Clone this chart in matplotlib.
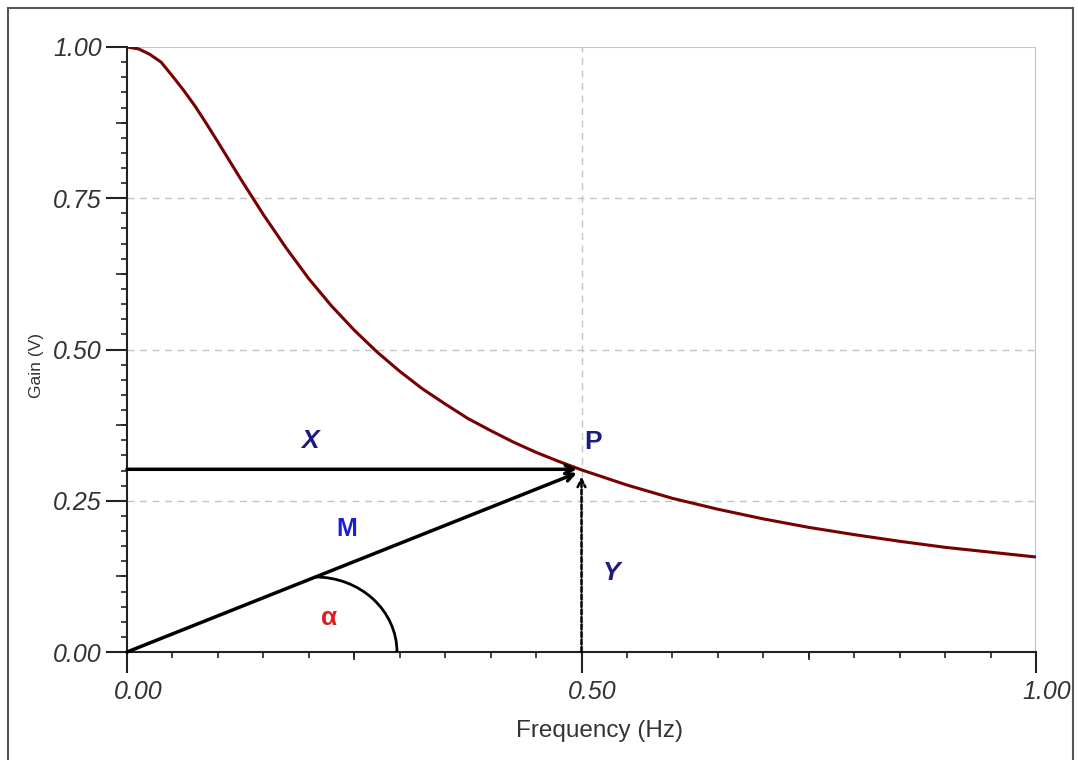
import numpy as np
import matplotlib
matplotlib.use("Agg")
import matplotlib.pyplot as plt
from matplotlib.patches import Arc, Rectangle
from matplotlib.transforms import ScaledTranslation

# gain curve
freq = [0.0, 0.0125, 0.025, 0.0375, 0.05, 0.0625, 0.075, 0.0875, 0.10, 0.125,
        0.15, 0.175, 0.20, 0.225, 0.25, 0.275, 0.30, 0.325, 0.35, 0.375, 0.40,
        0.425, 0.45, 0.475, 0.50, 0.55, 0.60, 0.65, 0.70, 0.75, 0.80, 0.85,
        0.90, 0.95, 1.00]
gain = [1.000, 0.997, 0.988, 0.975, 0.952, 0.928, 0.902, 0.873, 0.843, 0.782,
        0.723, 0.668, 0.617, 0.572, 0.532, 0.496, 0.464, 0.435, 0.410, 0.386, 0.366,
        0.347, 0.330, 0.315, 0.301, 0.276, 0.254, 0.236, 0.220, 0.206, 0.194, 0.183,
        0.173, 0.165, 0.157]

# point P and the angle marker
p_freq, p_gain = 0.495, 0.302
arc_center = 0.207
arc_rx, arc_ry = 0.090, 0.124

x_ticks = [0.0, 0.5, 1.0]
x_ticklabels = ["0.00", "0.50", "1.00"]
y_ticks = [0.0, 0.25, 0.5, 0.75, 1.0]
y_ticklabels = ["0.00", "0.25", "0.50", "0.75", "1.00"]

plt.rcParams["font.family"] = ["Liberation Sans", "DejaVu Sans"]

fig = plt.figure(figsize=(10.78, 7.6), dpi=100)
ax = fig.add_axes([127 / 1078, 1 - 652 / 760, (1036 - 127) / 1078, (652 - 47) / 760])

# outer frame
fig.patches.append(Rectangle((8 / 1078, -0.02), (1073 - 8) / 1078, 1 - 8 / 760 + 0.02,
                             transform=fig.transFigure, fill=False,
                             edgecolor="#555555", lw=1.5))

ax.plot(freq, gain, color="#780000", lw=2.2, zorder=3)

ax.set_xlim(0, 1)
ax.set_ylim(0, 1)

# grid
for yv in [0.25, 0.5, 0.75]:
    ax.axhline(yv, color="#c4c4c4", lw=1, ls=(0, (5, 4)), zorder=1)
ax.axvline(0.5, color="#c4c4c4", lw=1, ls=(0, (5, 4)), zorder=1)
ax.axhline(1.0, color="#c4c4c4", lw=1.5, zorder=1)

for s in ["top", "right"]:
    ax.spines[s].set_visible(False)
ax.axvline(1.0, color="#c4c4c4", lw=1.5, zorder=1)
ax.spines["left"].set_color("#222222")
ax.spines["bottom"].set_color("#222222")
ax.spines["left"].set_linewidth(1.5)
ax.spines["bottom"].set_linewidth(1.5)

ax.set_xticks(x_ticks)
ax.set_xticklabels(x_ticklabels)
ax.set_yticks(y_ticks)
ax.set_yticklabels(y_ticklabels)
ax.set_xticks(np.arange(0.05, 1.0, 0.05), minor=True)
ax.set_yticks(np.arange(0.025, 1.0, 0.025), minor=True)
ax.tick_params(axis="both", which="major", length=15, width=1.5, color="#222222",
               labelsize=18, labelcolor="#333333")
ax.tick_params(axis="y", which="major", pad=3)
ax.tick_params(axis="x", which="major", pad=5)
ax.tick_params(axis="both", which="minor", length=4, width=1.2, color="#222222")
for lab in ax.get_xticklabels() + ax.get_yticklabels():
    lab.set_fontstyle("italic")
offset = ScaledTranslation(11 / 100, 0, fig.dpi_scale_trans)
for lab in ax.get_xticklabels():
    lab.set_transform(lab.get_transform() + offset)

# medium ticks at the quarter points
sec_y = ax.secondary_yaxis("left")
sec_y.set_yticks([0.125, 0.375, 0.625, 0.875])
sec_y.tick_params(length=8, width=1.2, color="#222222", labelleft=False)
sec_y.spines["left"].set_visible(False)
sec_x = ax.secondary_xaxis("bottom")
sec_x.set_xticks([0.25, 0.75])
sec_x.tick_params(length=6, width=1.2, color="#222222", labelbottom=False)
sec_x.spines["bottom"].set_visible(False)

ax.set_xlabel("Frequency (Hz)", fontsize=17.5, color="#333333")
ax.xaxis.set_label_coords(0.520, -0.112)
ax.set_ylabel("Gain (V)", fontsize=12.5, color="#333333")
ax.yaxis.set_label_coords(-0.091, 0.473)

# vectors
arrow_kw = dict(arrowstyle="->", color="black", lw=2.5, mutation_scale=14,
                shrinkA=0, shrinkB=0)
ax.annotate("", xy=(p_freq, p_gain), xytext=(0, p_gain), arrowprops=arrow_kw, zorder=4)
ax.annotate("", xy=(p_freq, p_gain - 0.006), xytext=(0, 0), arrowprops=arrow_kw, zorder=4)
ax.annotate("", xy=(0.5, p_gain - 0.012), xytext=(0.5, 0),
            arrowprops=dict(arrow_kw, lw=1.8, linestyle=(0, (2, 1))), zorder=4)

ax.add_patch(Arc((arc_center, 0), 2 * arc_rx, 2 * arc_ry, theta1=0, theta2=90,
                 color="black", lw=2, zorder=4))

ax.text(0.201, 0.349, "X", fontsize=19, fontweight="bold", fontstyle="italic",
        color="#1c1c80", ha="center", va="center")
ax.text(0.513, 0.347, "P", fontsize=19, fontweight="bold",
        color="#1c1c80", ha="center", va="center")
ax.text(0.242, 0.203, "M", fontsize=18, fontweight="bold",
        color="#1e1ed2", ha="center", va="center")
ax.text(0.533, 0.131, "Y", fontsize=19, fontweight="bold", fontstyle="italic",
        color="#1c1c80", ha="center", va="center")
ax.text(0.222, 0.057, "α", fontsize=19, fontweight="bold",
        color="#dd1e1e", ha="center", va="center")

fig.savefig("out.png", dpi=100)
